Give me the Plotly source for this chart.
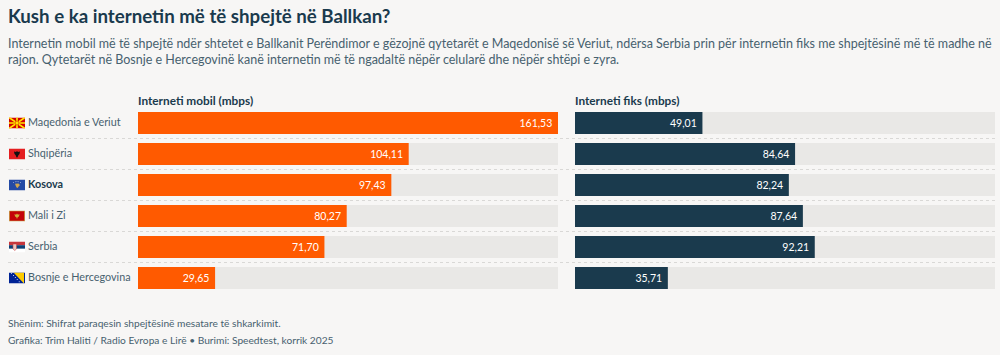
import base64
import plotly.graph_objects as go

countries = ["Maqedonia e Veriut", "Shqipëria", "Kosova", "Mali i Zi", "Serbia", "Bosnje e Hercegovina"]
mobile = [161.53, 104.11, 97.43, 80.27, 71.70, 29.65]
fixed = [49.01, 84.64, 82.24, 87.64, 92.21, 35.71]
scale_max = 161.53

title = "Kush e ka internetin më të shpejtë në Ballkan?"
sub1 = "Internetin mobil më të shpejtë ndër shtetet e Ballkanit Perëndimor e gëzojnë qytetarët e Maqedonisë së Veriut, ndërsa Serbia prin për internetin fiks me shpejtësinë më të madhe në"
sub2 = "rajon. Qytetarët në Bosnje e Hercegovinë kanë internetin më të ngadaltë nëpër celularë dhe nëpër shtëpi e zyra."
head_mobile = "Interneti mobil (mbps)"
head_fixed = "Interneti fiks (mbps)"
note = "Shënim: Shifrat paraqesin shpejtësinë mesatare të shkarkimit."
source = "Grafika: Trim Haliti / Radio Evropa e Lirë • Burimi: Speedtest, korrik 2025"

W, H = 1000, 355
FONT = "Lato"
NAVY = "#1a3a4d"
ORANGE = "#ff5a00"
TRACK = "#e9e8e6"
BG = "#f7f6f5"
TEXT = "#47616f"

flags = [
 '<rect width="16" height="11" fill="#d20000"/><g stroke="#ffe600" stroke-width="1.7"><path d="M0 0L16 11M16 0L0 11M8 0V11M0 5.5H16"/></g><circle cx="8" cy="5.5" r="2" fill="#ffe600" stroke="#d20000" stroke-width=".6"/>',
 '<rect width="16" height="11" fill="#e41e20"/><path d="M5 3L7 3.6L8 2.6L9 3.6L11 3L10.5 5.5L9.5 6.5L8.6 8.6L8 9.2L7.4 8.6L6.5 6.5L5.5 5.5Z" fill="#111"/>',
 '<rect width="16" height="11" fill="#244aa5"/><path d="M6 4.2L9.5 4L11 5.4L9.6 7L8.6 8.6L7.6 8L6.8 6.4Z" fill="#d0a650"/><g fill="#fff"><circle cx="4.5" cy="3" r=".4"/><circle cx="6.4" cy="2.3" r=".4"/><circle cx="8" cy="2" r=".4"/><circle cx="9.6" cy="2.3" r=".4"/><circle cx="11.5" cy="3" r=".4"/></g>',
 '<rect width="16" height="11" fill="#c8a04a"/><rect x=".8" y=".8" width="14.4" height="9.4" fill="#c40308"/><path d="M5.5 3.5L7 4.2L8 3L9 4.2L10.5 3.5L10 6L8.8 6.5L8 8.5L7.2 6.5L6 6Z" fill="#d3ae3b"/>',
 '<rect width="16" height="3.7" fill="#c6363c"/><rect y="3.7" width="16" height="3.6" fill="#0c4076"/><rect y="7.3" width="16" height="3.7" fill="#fff"/><path d="M4 2.5H7.5V7.5L5.75 9L4 7.5Z" fill="#e8c8c0" stroke="#c6363c" stroke-width=".5"/>',
 '<rect width="16" height="11" fill="#002395"/><path d="M4.5 0H15L15 11Z" fill="#fecb00"/><g fill="#fff"><circle cx="2.5" cy=".8" r=".5"/><circle cx="4.5" cy="3" r=".5"/><circle cx="6.3" cy="5" r=".5"/><circle cx="8.2" cy="7" r=".5"/><circle cx="10.2" cy="9.2" r=".5"/></g>',
]

def svg_uri(body):
    svg = f'<svg xmlns="http://www.w3.org/2000/svg" width="160" height="110" viewBox="0 0 16 11">{body}</svg>'
    return "data:image/svg+xml;base64," + base64.b64encode(svg.encode()).decode()

def px(v): return v / W
def py(v): return 1 - v / H

def fmt(v): return f"{v:.2f}".replace(".", ",")

fig = go.Figure()
panels = [("x", "y", mobile, ORANGE), ("x2", "y2", fixed, NAVY)]
for xa, ya, vals, col in panels:
    fig.add_bar(x=[scale_max] * len(countries), y=countries, orientation="h", xaxis=xa, yaxis=ya,
                marker=dict(color=TRACK, line_width=0), width=0.71, hoverinfo="skip", showlegend=False)
    fig.add_bar(x=vals, y=countries, orientation="h", xaxis=xa, yaxis=ya,
                marker=dict(color=col, line_width=0), width=0.71, showlegend=False,
                text=[fmt(v) + " " for v in vals], textposition="inside", insidetextanchor="end",
                textangle=0, constraintext="none",
                textfont=dict(color="#ffffff", size=10.5, family=FONT), cliponaxis=False)

yrange = [5.5, -0.5]
ydom = [py(293.5), py(107.5)]
axis_off = dict(visible=False, fixedrange=True)
layout = dict(
    width=W, height=H, margin=dict(l=0, r=0, t=0, b=0, pad=0), autosize=False,
    paper_bgcolor=BG, plot_bgcolor=BG, barmode="overlay", showlegend=False,
    font=dict(family=FONT, color=TEXT),
    xaxis=dict(domain=[px(138), px(558)], range=[0, scale_max], **axis_off),
    xaxis2=dict(domain=[px(575), px(995)], range=[0, scale_max], **axis_off),
    yaxis=dict(domain=ydom, range=yrange, type="category", categoryorder="array", categoryarray=countries, **axis_off),
    yaxis2=dict(domain=ydom, range=yrange, type="category", categoryorder="array", categoryarray=countries, anchor="x2", **axis_off),
)
fig.update_layout(**layout)

def txt(s, x, y, size, color=TEXT, bold=False):
    fig.add_annotation(text=f"<b>{s}</b>" if bold else s, x=px(x - 2), y=py(y), xref="paper", yref="paper",
                       xanchor="left", yanchor="middle", showarrow=False, align="left",
                       font=dict(size=size, color=color, family=FONT))

txt(title, 8, 16, 18.7, NAVY, True)
txt(sub1, 8, 43, 12.5, TEXT)
txt(sub2, 8, 59, 12.5, TEXT)
txt(head_mobile, 138, 100, 11.8, NAVY, True)
txt(head_fixed, 575, 100, 11.8, NAVY, True)
txt(note, 8, 323, 10.2, TEXT)
txt(source, 8, 340, 10.2, TEXT)

for i, c in enumerate(countries):
    fig.add_annotation(text=f"<b>{c}</b>" if c == "Kosova" else c, x=px(26), xref="paper", y=c, yref="y",
                       xanchor="left", yanchor="middle", showarrow=False, yshift=2,
                       font=dict(size=10.8, color=NAVY if c == "Kosova" else TEXT, family=FONT))
    fig.add_layout_image(source=svg_uri(flags[i]), xref="paper", yref="y", x=px(9), y=i,
                         sizex=16 / W, sizey=11 / 31, xanchor="left", yanchor="middle",
                         sizing="stretch", layer="above")
    if i < len(countries) - 1:
        fig.add_shape(type="line", xref="paper", yref="y", x0=px(8), x1=px(995), y0=i + 0.5, y1=i + 0.5,
                      line=dict(color="#d9d8d6", width=1, dash="dot"))

fig.write_html("out.html", post_script="document.body.style.margin='0';document.body.style.overflow='hidden';",
               config=dict(displayModeBar=False))
